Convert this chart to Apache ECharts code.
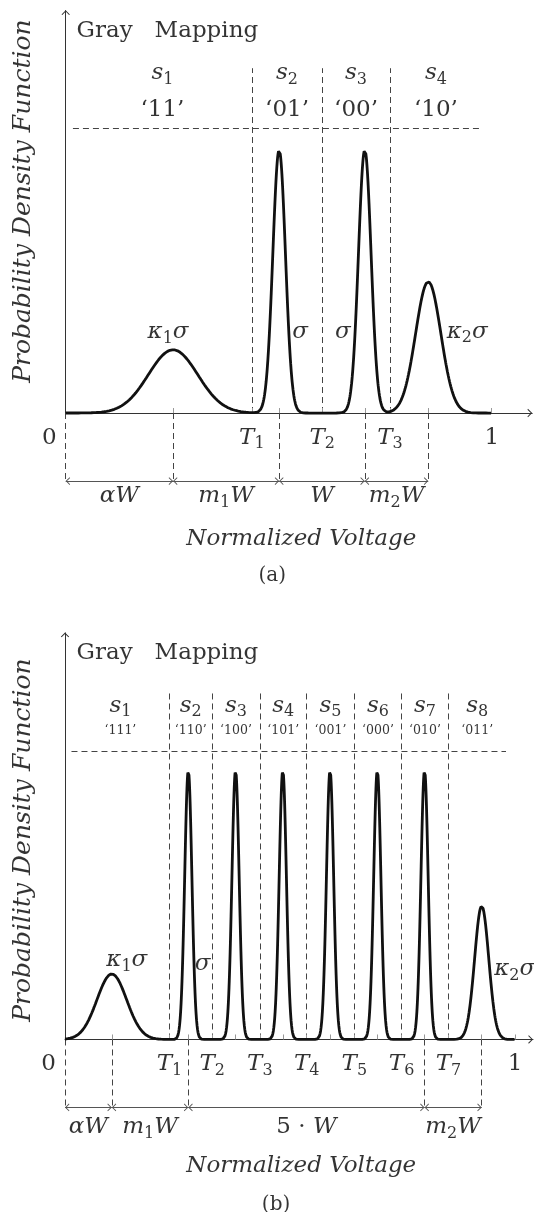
<!DOCTYPE html>
<html><head><meta charset="utf-8">
<script src="https://cdn.jsdelivr.net/npm/echarts@6/dist/echarts.min.js"></script>
<style>html,body{margin:0;padding:0;background:#fff}#c{width:534px;height:1212px}</style>
</head><body><div id="c"></div>
<script>
// ---------------- DATA: panel (a) 4-PAM Gray mapping ----------------
const symbolsA = ['s1', 's2', 's3', 's4'];
const codesA = ['11', '01', '00', '10'];
const meansA = [0.252, 0.501, 0.702, 0.851];
const sigmasA = [0.058, 0.0148, 0.0148, 0.0296];
const peaksA = [0.157, 0.653, 0.653, 0.326];
const thresholdsA = [0.437, 0.602, 0.761];
const sigmaTextA = ['κ1σ', 'σ', 'σ', 'κ2σ'];
const dimPointsA = [0, 0.252, 0.501, 0.702, 0.851];
const dimLabelsA = ['αW', 'm1W', 'W', 'm2W'];

// ---------------- DATA: panel (b) 8-PAM Gray mapping ----------------
const symbolsB = ['s1', 's2', 's3', 's4', 's5', 's6', 's7', 's8'];
const codesB = ['111', '110', '100', '101', '001', '000', '010', '011'];
const meansB = [0.104, 0.274, 0.379, 0.484, 0.589, 0.694, 0.799, 0.926];
const sigmasB = [0.033, 0.008, 0.008, 0.008, 0.008, 0.008, 0.008, 0.0157];
const peaksB = [0.161, 0.661, 0.661, 0.661, 0.661, 0.661, 0.661, 0.328];
const thresholdsB = [0.232, 0.327, 0.433, 0.537, 0.643, 0.748, 0.852];
const sigmaTextB = ['κ1σ', 'σ', '', '', '', '', '', 'κ2σ'];
const dimPointsB = [0, 0.104, 0.274, 0.799, 0.926];
const dimLabelsB = ['αW', 'm1W', '5·W', 'm2W'];

const titleText = 'Probability Density Function';
const xTitleText = 'Normalized Voltage';
const headerText = 'Gray   Mapping';
const captions = ['(a)', '(b)'];

// ---------------- LAYOUT / STYLE ----------------
const FONT = 'DejaVu Serif';
const INK = '#000';
const CHEV = 'path://M0,0 M20,20 M4,16 L10,10 L16,16 L14.8,16.8 L10,12 L5.2,16.8 Z';
const RICH = {
  m: {fontFamily: FONT, fontStyle: 'italic', fontSize: 23, lineHeight: 30, color: INK},
  r: {fontFamily: FONT, fontSize: 23, lineHeight: 30, color: INK},
  d: {fontFamily: FONT, fontSize: 16, lineHeight: 16, padding: [13, 0, 0, 0], color: INK},
  c: {fontFamily: FONT, fontSize: 12.5, lineHeight: 30, color: INK},
  t: {fontFamily: FONT, fontStyle: 'italic', fontSize: 25, lineHeight: 30, color: INK},
  k: {fontFamily: FONT, fontSize: 20, lineHeight: 30, color: INK}
};
const LAYOUT = [
  { grid: {left: 65.7, top: 10.2, width: 466.5, height: 584.1}, xMax: 1.095, yMin: -0.45, yUnit: 402.8,
    rows: {gray: 0.949, sym: 0.844, code: 0.751, hdash: 0.708, tTop: 0.856, tick: -0.061, dim: -0.169, dimLbl: -0.206, nv: -0.313, cap: -0.403},
    hx: [0.017, 0.977], grayX: 0.0256, nvX: 0.553, capX: 0.485, titleX: -0.0995, titleY: 0.526,
    sigY: [0.201, 0.202, 0.202, 0.202], sigDx: [-5, 21, -22, 39], codeStyle: 'r' },
  { grid: {left: 65, top: 632.5, width: 468, height: 577.9}, xMax: 1.04, yMin: -0.42, yUnit: 407,
    rows: {gray: 0.950, sym: 0.820, code: 0.758, hdash: 0.709, tTop: 0.858, tick: -0.060, dim: -0.167, dimLbl: -0.215, nv: -0.310, cap: -0.406},
    hx: [0.0144, 0.98], grayX: 0.0258, nvX: 0.525, capX: 0.469, titleX: -0.0927, titleY: 0.49,
    sigY: [0.194, 0.186, 0, 0, 0, 0, 0, 0.173], sigDx: [15, 14.4, 0, 0, 0, 0, 0, 33], codeStyle: 'c' }
];

function mathRich(s) {
  let out = '', prevLetter = false;
  for (const ch of s) {
    if (/[0-9]/.test(ch) && prevLetter) { out += '{d|' + ch + '}'; prevLetter = false; }
    else if (/[A-Za-z\u03b1-\u03c9]/.test(ch)) { out += '{m|' + ch + '}'; prevLetter = true; }
    else if (ch === '·') { out += '{r| · }'; prevLetter = false; }
    else { out += '{r|' + ch + '}'; prevLetter = false; }
  }
  return out;
}

const D = [
  {symbols: symbolsA, codes: codesA, means: meansA, sigmas: sigmasA, peaks: peaksA, thr: thresholdsA, sig: sigmaTextA, dimP: dimPointsA, dimL: dimLabelsA},
  {symbols: symbolsB, codes: codesB, means: meansB, sigmas: sigmasB, peaks: peaksB, thr: thresholdsB, sig: sigmaTextB, dimP: dimPointsB, dimL: dimLabelsB}
];

const grids = [], xAxes = [], yAxes = [], series = [];
D.forEach((d, i) => {
  const L = LAYOUT[i], R = L.rows;
  grids.push(L.grid);
  xAxes.push({gridIndex: i, type: 'value', min: 0, max: L.xMax,
    axisLine: {show: true, onZero: true, symbol: ['none', CHEV], symbolSize: [14, 14], lineStyle: {color: '#333', width: 1}},
    axisTick: {show: false}, axisLabel: {show: false}, splitLine: {show: false}});
  yAxes.push({gridIndex: i, type: 'value', min: L.yMin, max: 1, show: false, splitLine: {show: false}});

  // density curve: sum of the Gaussian components
  const pts = [];
  for (let k = 0; k <= 2000; k++) {
    const x = k / 2000;
    let y = 0;
    d.means.forEach((m, j) => { const z = (x - m) / d.sigmas[j]; y += d.peaks[j] * Math.exp(-0.5 * z * z); });
    pts.push([x, y]);
  }
  series.push({type: 'line', xAxisIndex: i, yAxisIndex: i, data: pts, showSymbol: false, silent: true, z: 5,
    lineStyle: {color: '#111', width: 2.8}});

  // dashed guide lines
  const dashLines = [];
  d.thr.forEach(t => dashLines.push([{coord: [t, 0]}, {coord: [t, R.tTop]}]));
  dashLines.push([{coord: [L.hx[0], R.hdash]}, {coord: [L.hx[1], R.hdash]}]);
  d.dimP.forEach(p => dashLines.push([{coord: [p, 0]}, {coord: [p, R.dim]}]));
  series.push({type: 'line', xAxisIndex: i, yAxisIndex: i, data: [], silent: true,
    markLine: {silent: true, symbol: 'none', label: {show: false}, animation: false,
      lineStyle: {type: [6, 4], color: '#444', width: 1}, data: dashLines}});

  // small axis ticks at symbol means, thresholds and 1
  const tl = 5 / L.yUnit;
  const ticks = d.means.concat(d.thr, [1]).map(v => [{coord: [v, 0]}, {coord: [v, tl]}]);
  series.push({type: 'line', xAxisIndex: i, yAxisIndex: i, data: [], silent: true,
    markLine: {silent: true, symbol: 'none', label: {show: false}, animation: false,
      lineStyle: {type: 'solid', color: '#999', width: 1}, data: ticks}});

  // y axis with arrow
  series.push({type: 'line', xAxisIndex: i, yAxisIndex: i, data: [], silent: true,
    markLine: {silent: true, symbol: ['none', CHEV], symbolSize: 14, label: {show: false}, animation: false,
      lineStyle: {type: 'solid', color: '#333', width: 1}, data: [[{coord: [0, 0]}, {coord: [0, 1]}]]}});

  // dimension arrows
  const dims = [];
  for (let k = 0; k < d.dimP.length - 1; k++) dims.push([{coord: [d.dimP[k], R.dim]}, {coord: [d.dimP[k + 1], R.dim]}]);
  series.push({type: 'line', xAxisIndex: i, yAxisIndex: i, data: [], silent: true,
    markLine: {silent: true, symbol: [CHEV, CHEV], symbolSize: 13, label: {show: false}, animation: false,
      lineStyle: {type: 'solid', color: '#555', width: 1.2}, data: dims}});

  // texts
  const T = [];
  T.push({value: [L.grayX, R.gray], txt: '{r|' + headerText + '}', label: {align: 'left'}});
  const bounds = [L.hx[0]].concat(d.thr, [L.hx[1]]);
  d.symbols.forEach((s, j) => {
    const cx = (bounds[j] + bounds[j + 1]) / 2;
    T.push({value: [cx, R.sym], txt: mathRich(s)});
    T.push({value: [cx, R.code], txt: '{' + L.codeStyle + '|\u2018' + d.codes[j] + '\u2019}'});
  });
  T.push({value: [0, R.tick], txt: '{r|0}', label: {offset: [-16.5, 0]}});
  d.thr.forEach((t, j) => T.push({value: [t, R.tick], txt: mathRich('T' + (j + 1))}));
  T.push({value: [1, R.tick], txt: '{r|1}'});
  d.sig.forEach((s, j) => { if (s) T.push({value: [d.means[j], L.sigY[j]], txt: mathRich(s), label: {offset: [L.sigDx[j], 0]}}); });
  d.dimL.forEach((s, j) => T.push({value: [(d.dimP[j] + d.dimP[j + 1]) / 2, R.dimLbl], txt: mathRich(s)}));
  T.push({value: [L.nvX, R.nv], txt: '{m|' + xTitleText + '}'});
  T.push({value: [L.capX, R.cap], txt: '{k|' + captions[i] + '}'});
  T.push({value: [L.titleX, L.titleY], txt: '{t|' + titleText + '}', label: {rotate: 90}});
  series.push({type: 'scatter', xAxisIndex: i, yAxisIndex: i, data: T, clip: false, silent: true, z: 10,
    symbol: 'circle', symbolSize: 1, itemStyle: {color: 'rgba(0,0,0,0)'},
    label: {show: true, position: 'inside', formatter: p => p.data.txt, rich: RICH, fontFamily: FONT, color: INK}});
});

const chart = echarts.init(document.getElementById('c'), null, {renderer: 'canvas'});
chart.setOption({animation: false, backgroundColor: '#fff', grid: grids, xAxis: xAxes, yAxis: yAxes, series: series});
</script>
</body></html>
